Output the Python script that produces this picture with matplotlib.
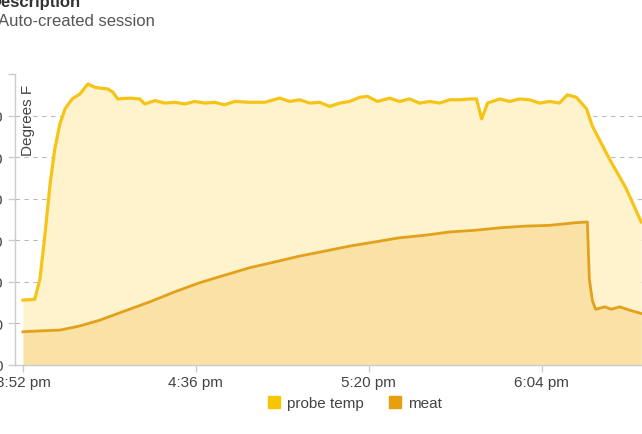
import datetime as dt
import matplotlib
matplotlib.use("Agg")
import matplotlib.pyplot as plt
import matplotlib.dates as mdates
from matplotlib.patches import Patch

plt.rcParams['font.family'] = ['Liberation Sans', 'DejaVu Sans']

# minutes after 3:52 pm, and temperatures (deg F)
probe_min = [0, 3.0, 4.3, 5.6, 6.9, 8.1, 9.4, 10.7, 12.5, 14.5, 16.5, 18.3, 19.6, 21.6,
             22.9, 24.1, 27.2, 29.7, 31.0, 33.6, 36.1, 38.6, 41.2, 43.7, 46.3, 48.8,
             51.3, 53.9, 57.7, 61.5, 65.3, 67.9, 70.4, 73.0, 75.5, 78.0, 80.6, 83.1,
             85.7, 87.7, 90.2, 93.3, 95.8, 98.4, 100.9, 103.5, 106.0, 108.5, 111.1,
             113.6, 115.4, 116.7, 118.2, 121.3, 123.8, 126.3, 128.9, 131.4, 134.0,
             136.5, 138.5, 140.8, 143.4, 144.9, 149.2, 153.5, 157.3]
probe_temp = [78, 79, 103, 157, 218, 260, 290, 308, 320, 326, 338, 334, 333, 332,
              328, 320, 321, 320, 314, 318, 315, 316, 314, 317, 315, 316,
              313, 317, 316, 316, 321, 317, 319, 315, 316, 311, 315, 317,
              322, 323, 317, 321, 317, 320, 315, 317, 315, 319, 319,
              320, 320, 296, 315, 320, 317, 320, 319, 315, 317,
              315, 325, 322, 308, 287, 248, 212, 172]

meat_min = [0, 4.3, 9.4, 14.5, 19.6, 25.9, 32.3, 38.6, 45.0, 51.3, 57.7, 64.1, 70.4,
            76.8, 83.1, 89.5, 95.8, 102.2, 108.5, 114.9, 121.3, 127.6, 134.0, 140.3,
            143.6, 144.1, 144.9, 145.7, 148.0, 149.7, 151.8, 154.3, 157.3]
meat_temp = [40, 41, 42, 47, 54, 65, 76, 88, 99, 108, 117, 124, 131,
             137, 143, 148, 153, 156, 160, 162, 165, 167, 168, 171,
             172, 103, 77, 67, 70, 67, 70, 66, 62]

y_ticks = [0, 50, 100, 150, 200, 250, 300]
start = dt.datetime(2020, 1, 1, 15, 52)
x_ticks = [start + dt.timedelta(minutes=m) for m in (0, 44, 88, 132)]
x_labels = ['3:52 pm', '4:36 pm', '5:20 pm', '6:04 pm']

probe_t = [start + dt.timedelta(minutes=m) for m in probe_min]
meat_t = [start + dt.timedelta(minutes=m) for m in meat_min]

probe_line = '#F6C416'
probe_fill = '#FEF3CD'
meat_line = '#E3A11B'
meat_fill = '#FAE2A6'

fig = plt.figure(figsize=(6.42, 4.35), dpi=100)
ax = fig.add_axes([15 / 642, 69 / 435, 627 / 642, 291 / 435])

ax.fill_between(probe_t, probe_temp, 0, color=probe_fill, lw=0)
ax.fill_between(meat_t, meat_temp, 0, color=meat_fill, lw=0)
ax.plot(probe_t, probe_temp, color=probe_line, lw=2.3, solid_joinstyle='round')
ax.plot(meat_t, meat_temp, color=meat_line, lw=2.0, solid_joinstyle='round')

for v in y_ticks[1:]:
    ax.axhline(v, color='#bbbbbb', lw=0.8, ls=(0, (4, 4)), zorder=0.5)

ax.set_xlim(start - dt.timedelta(minutes=2.03), start + dt.timedelta(minutes=157.5))
ax.set_ylim(0, 350)
ax.set_yticks(y_ticks + [350])
ax.set_yticklabels([str(v) for v in y_ticks] + [''])
ax.set_xticks(x_ticks)
ax.set_xticklabels(x_labels)

for s in ['top', 'right']:
    ax.spines[s].set_visible(False)
for s in ['left', 'bottom']:
    ax.spines[s].set_color('#cccccc')
    ax.spines[s].set_linewidth(1.0)
ax.tick_params(axis='y', length=5, width=1, color='#cccccc', pad=3.6, labelsize=11, labelcolor='#444444')
ax.tick_params(axis='x', length=5, width=1, color='#cccccc', pad=2, labelsize=11, labelcolor='#444444')

ax.text(28 / 642 - 15 / 642, 0, '', transform=ax.transAxes)
fig.text(28 / 642, 1 - 120 / 435, 'Degrees F', rotation=90, ha='center', va='center',
         fontsize=11, color='#444444')

fig.text(-10 / 642, 1 - 7 / 435, 'Description', fontsize=12, fontweight='bold',
         color='#333333', ha='left', va='baseline')
fig.text(-2 / 642, 1 - 26 / 435, 'Auto-created session', fontsize=12,
         color='#555555', ha='left', va='baseline')

handles = [Patch(color='#F8C600', label='probe temp'), Patch(color='#E6A00F', label='meat')]
fig.legend(handles=handles, loc='center', bbox_to_anchor=(355 / 642, 1 - 404 / 435),
           ncol=2, frameon=False, fontsize=11, handlelength=0.8, handleheight=0.8,
           handletextpad=0.5, columnspacing=1.6, labelcolor='#444444')

fig.savefig('out.png', dpi=100)
